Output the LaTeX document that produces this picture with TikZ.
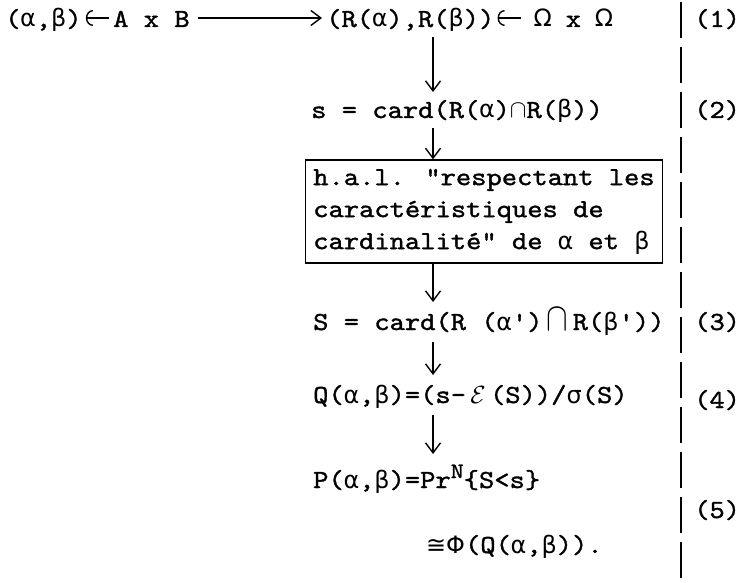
\documentclass[tikz,border=0pt]{standalone}
\usepackage{fontspec}
\setmainfont{lmmono10-regular.otf}[FakeStretch=1.12,FakeBold=1.3,Ligatures=TeXOff]
\newfontfamily\grk{DejaVu Sans}[Scale=0.92]
\usetikzlibrary{arrows.meta}
\newcommand\mg[1]{\makebox[0.588em]{\grk #1}}
\tikzset{
  txt/.style={anchor=base west, inner sep=0pt, font=\fontsize{26}{32}\selectfont},
  arr/.style={line width=1.3pt, -{Straight Barb[length=10pt,width=15pt,line width=1.4pt]}},
  larr/.style={line width=1.3pt, -{Arc Barb[length=7pt,width=16pt,line width=1.4pt]}},
  sep/.style={line width=1.5pt, dash pattern=on 36pt off 9pt},
  halbox/.style={draw, line width=1.3pt, inner xsep=8pt, inner ysep=0pt, minimum height=103pt,
    align=left, font=\fontsize{26}{32}\selectfont}
}
\begin{document}
\begin{tikzpicture}[x=1pt,y=-1pt]
\useasboundingbox (0,0) rectangle (742,583);
% row 1
\node[txt] (ab) at (5,27) {(\mg α,\mg β)};
\node[txt] (AB) at (113,27) {A x B};
\node[txt] (RR) at (326,27) {(R(\mg α),R(\mg β))};
\node[txt] (OO) at (535,27) {\mg Ω x \mg Ω};
\draw[larr] ([shift={(-4,-9)}]AB.base west) -- ([shift={(4,-9)}]ab.base east);
\draw[arr] ([shift={(8,-9)}]AB.base east) -- ([shift={(-4,-9)}]RR.base west);
\draw[larr] ([shift={(-14,-9)}]OO.base west) -- ([shift={(3,-9)}]RR.base east);
% column
\coordinate (col) at (433,0);
\node[txt] (s) at (311,118) {s = card(R(\mg α)$\cap$R(\mg β))};
\node[halbox] (hal) at (484,211.5) {h.a.l. "respectant les\\caractéristiques de\\cardinalité" de \mg α et \mg β};
\node[txt] (S) at (313,330) {S = card(R (\mg α')\,\scalebox{1.3}[1.6]{$\cap$}\,R(\mg β'))};
\node[txt] (Q) at (313,403) {Q(\mg α,\mg β)=(s-\,\mg{$\mathcal{E}$}\,(S))/\mg σ(S)};
\node[txt] (P) at (313,488) {P(\mg α,\mg β)=Pr\raisebox{10pt}{\fontsize{22}{22}\selectfont N}\{S<s\}};
\node[txt] (phi) at (426,553) {{\grk ≅Φ}(Q(\mg α,\mg β)).};
\draw[arr] ([yshift=-10pt]RR.base -| col) -- ([yshift=26pt]s.base -| col);
\draw[arr] ([yshift=-10pt]s.base -| col) -- (hal.north -| col);
\draw[arr] (hal.south -| col) -- ([yshift=28pt]S.base -| col);
\draw[arr] ([yshift=-12pt]S.base -| col) -- ([yshift=28pt]Q.base -| col);
\draw[arr] ([yshift=-12pt]Q.base -| col) -- ([yshift=34pt]P.base -| col);
% separator and labels
\coordinate (septop) at (681,2);
\coordinate (sepbot) at (681,583);
\draw[sep] (septop) -- (sepbot);
\node[txt] (l1) at (694,27) {(1)};
\node[txt] (l2) at (694,118) {(2)};
\node[txt] (l3) at (694,330) {(3)};
\node[txt] (l4) at (694,408) {(4)};
\node[txt] (l5) at (694,518) {(5)};
\end{tikzpicture}
\end{document}
